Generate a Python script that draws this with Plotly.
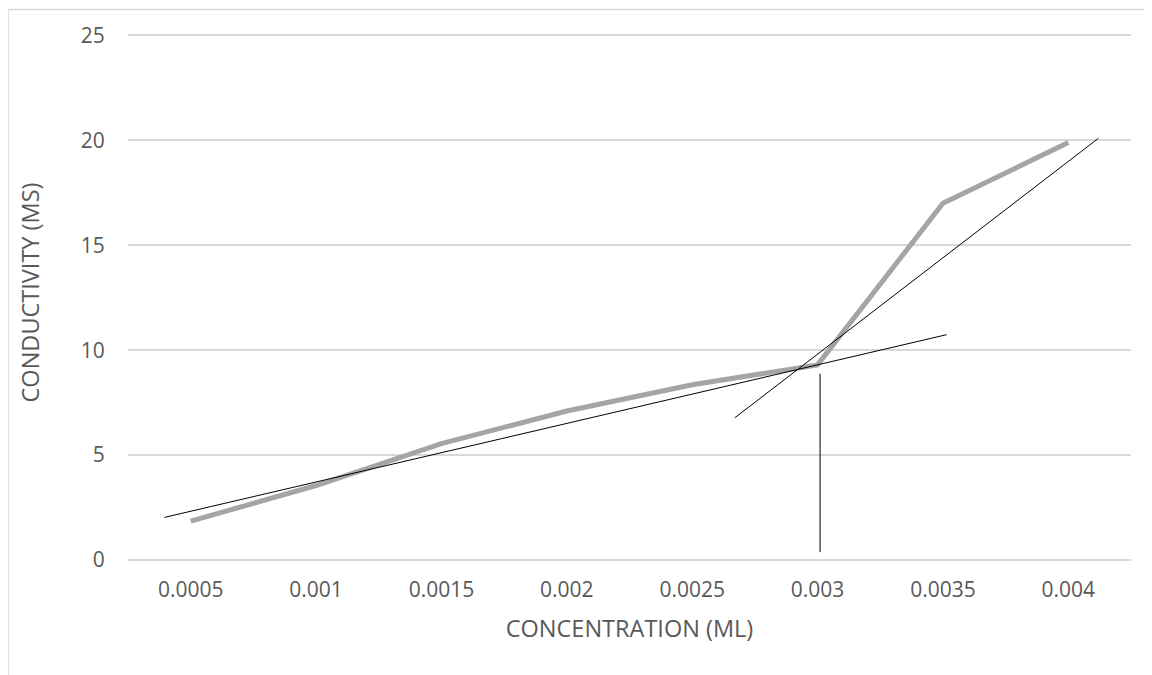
import plotly.graph_objects as go

# ---- data ----
concentration = [0.0005, 0.001, 0.0015, 0.002, 0.0025, 0.003, 0.0035, 0.004]
tick_labels = ["0.0005", "0.001", "0.0015", "0.002", "0.0025", "0.003", "0.0035", "0.004"]
conductivity = [1.85, 3.55, 5.55, 7.1, 8.35, 9.3, 17.0, 19.9]

# hand-drawn construction lines (concentration, conductivity)
tangent_low_x = [0.000395, 0.003515]
tangent_low_y = [2.03, 10.74]
tangent_high_x = [0.00267, 0.00412]
tangent_high_y = [6.78, 20.10]
drop_x = [0.00301, 0.00301]
drop_y = [0.38, 8.88]

y_ticks = [0, 5, 10, 15, 20, 25]

TEXT = "#595959"
GRID = "#d9d9d9"
FONT = "Open Sans, Liberation Sans, sans-serif"

fig = go.Figure()
fig.add_trace(go.Scatter(
    x=concentration, y=conductivity, mode="lines",
    line=dict(color="#a5a5a5", width=5),
    showlegend=False, hoverinfo="x+y",
))
for xs, ys in [(tangent_low_x, tangent_low_y), (tangent_high_x, tangent_high_y), (drop_x, drop_y)]:
    fig.add_trace(go.Scatter(
        x=xs, y=ys, mode="lines",
        line=dict(color="black", width=1),
        showlegend=False, hoverinfo="skip",
    ))

fig.update_layout(
    width=1144, height=667,
    margin=dict(l=120, r=21, t=16.5, b=115),
    paper_bgcolor="white", plot_bgcolor="white",
    font=dict(family=FONT, color=TEXT),
    shapes=[dict(type="rect", xref="paper", yref="paper",
                 x0=-0.1196, x1=1.03, y0=-0.25, y1=1.0289,
                 line=dict(color=GRID, width=1.5), layer="below")],
)
fig.update_xaxes(
    range=[0.00025, 0.00425], tickvals=concentration, ticktext=tick_labels,
    showgrid=False, zeroline=False, showline=False,
    ticks="outside", ticklen=11, tickcolor="rgba(0,0,0,0)",
    tickfont=dict(size=21, color=TEXT, family=FONT),
    title=dict(text="CONCENTRATION (ML)", font=dict(size=23.5, color=TEXT, family=FONT), standoff=18),
)
fig.update_yaxes(
    range=[0, 25.5], tickvals=y_ticks,
    showgrid=True, gridcolor=GRID, gridwidth=1.5,
    zeroline=True, zerolinecolor=GRID, zerolinewidth=1.5, showline=False,
    ticks="outside", ticklen=18, tickcolor="rgba(0,0,0,0)",
    tickfont=dict(size=21, color=TEXT, family=FONT),
    title=dict(text="CONDUCTIVITY (MS)", font=dict(size=23.5, color=TEXT, family=FONT), standoff=34),
)

fig.write_html("out.html")
